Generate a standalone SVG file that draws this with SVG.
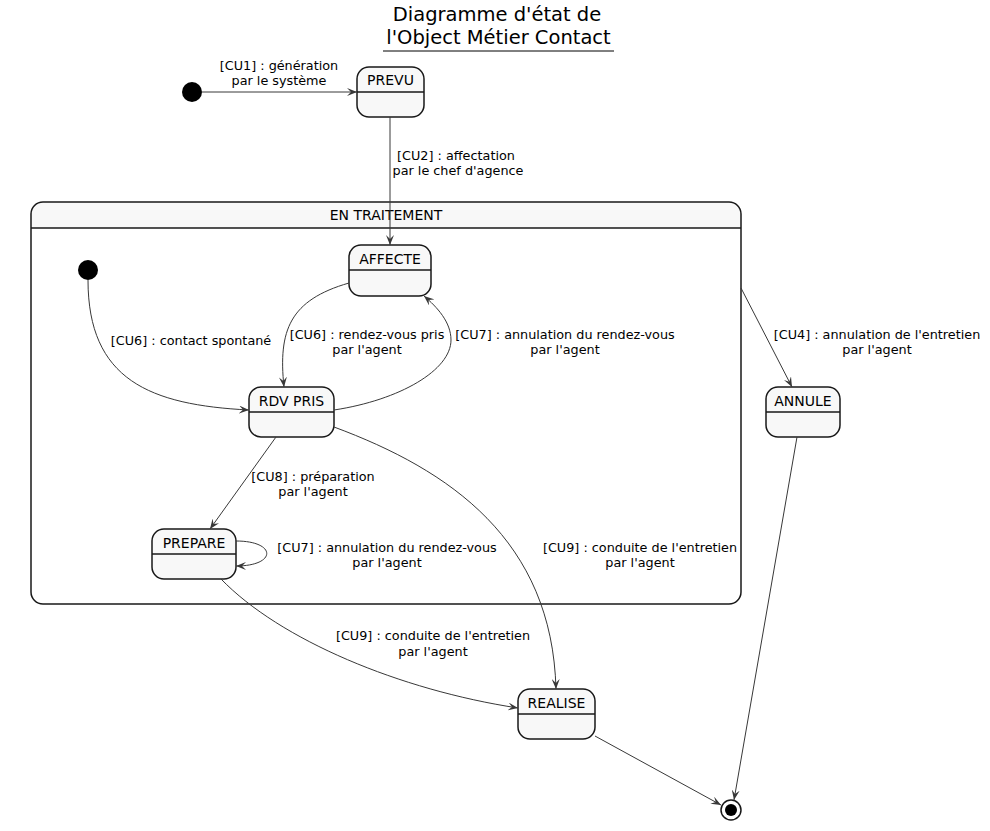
<svg xmlns="http://www.w3.org/2000/svg" width="990" height="831" viewBox="0 0 990 831">
<style>
text{font-family:"DejaVu Sans",sans-serif;fill:#000}
.t{font-size:19.5px;text-anchor:middle}
.n{font-size:14px;text-anchor:middle}
.l{font-size:12.8px;text-anchor:middle}
.st{fill:#F8F8F8;stroke:#181818;stroke-width:1.5}
.sep{stroke:#181818;stroke-width:1.5}
.c{fill:none;stroke:#383838;stroke-width:1}
</style>
<defs>
<marker id="a" viewBox="0 0 10 8" refX="10" refY="4" markerWidth="10" markerHeight="8" markerUnits="userSpaceOnUse" orient="auto">
<path d="M0,0 L10,4 L0,8 L4,4 Z" fill="#383838"/>
</marker>
</defs>
<rect width="990" height="831" fill="#fff"/>
<g id="title">
<text class="t" x="497" y="20.5">Diagramme d'état de</text>
<text class="t" x="498.5" y="44">l'Object Métier Contact</text>
<line x1="383" y1="51" x2="614" y2="51" stroke="#000" stroke-width="1"/>
</g>
<g id="composite">
<path d="M31,228 L31,214 Q31,202 43,202 L729,202 Q741,202 741,214 L741,228 Z" fill="#F8F8F8"/>
<rect x="31" y="202" width="710" height="402" rx="12" fill="none" stroke="#181818" stroke-width="1.5"/>
<line class="sep" x1="31" y1="228" x2="741" y2="228"/>
<text class="n" x="386" y="220">EN TRAITEMENT</text>
</g>
<g id="init"><circle cx="192" cy="92" r="10" fill="#000"/></g>
<g id="init2"><circle cx="88" cy="270" r="10" fill="#000"/></g>
<g id="PREVU">
<rect class="st" x="357" y="67" width="67" height="50" rx="12"/>
<line class="sep" x1="357" y1="92" x2="424" y2="92"/>
<text class="n" x="390.5" y="85">PREVU</text>
</g>
<g id="AFFECTE">
<rect class="st" x="349" y="245" width="82" height="51" rx="12"/>
<line class="sep" x1="349" y1="270" x2="431" y2="270"/>
<text class="n" x="390" y="264">AFFECTE</text>
</g>
<g id="RDVPRIS">
<rect class="st" x="249" y="387" width="85" height="50" rx="12"/>
<line class="sep" x1="249" y1="412" x2="334" y2="412"/>
<text class="n" x="291.5" y="406">RDV PRIS</text>
</g>
<g id="PREPARE">
<rect class="st" x="152" y="529" width="84" height="50" rx="12"/>
<line class="sep" x1="152" y1="554" x2="236" y2="554"/>
<text class="n" x="194" y="548">PREPARE</text>
</g>
<g id="ANNULE">
<rect class="st" x="766" y="387" width="74" height="50" rx="12"/>
<line class="sep" x1="766" y1="412" x2="840" y2="412"/>
<text class="n" x="803" y="406">ANNULE</text>
</g>
<g id="REALISE">
<rect class="st" x="518" y="689" width="77" height="50" rx="12"/>
<line class="sep" x1="518" y1="714" x2="595" y2="714"/>
<text class="n" x="556.5" y="708">REALISE</text>
</g>
<g id="final">
<circle cx="731" cy="810" r="10" fill="#fff" stroke="#181818" stroke-width="1.5"/>
<circle cx="731" cy="810" r="6" fill="#000"/>
</g>
<g id="connectors">
<path class="c" marker-end="url(#a)" d="M202,92 L357,92"/>
<path class="c" marker-end="url(#a)" d="M390,117 L390,245"/>
<path class="c" marker-end="url(#a)" d="M88,280 C88,380 150,405 249,410"/>
<path class="c" marker-end="url(#a)" d="M349,283 C290,300 278,330 284,387"/>
<path class="c" marker-end="url(#a)" d="M334,410 C400,400 451,370 451,340 C451,322 437,307 424,296"/>
<path class="c" marker-end="url(#a)" d="M276,437 L210,529"/>
<path class="c" marker-end="url(#a)" d="M236,541 C277,541 277,566 236,566"/>
<path class="c" marker-end="url(#a)" d="M334,427 C450,470 552,540 556,689"/>
<path class="c" marker-end="url(#a)" d="M221,579 C280,640 400,690 518,708"/>
<path class="c" marker-end="url(#a)" d="M741,288 L792,387"/>
<path class="c" marker-end="url(#a)" d="M797,437 L734,800"/>
<path class="c" marker-end="url(#a)" d="M595,736 L721,805"/>
</g>
<g id="labels">
<text class="l" x="279" y="70">[CU1] : génération</text>
<text class="l" x="279" y="85">par le système</text>
<text class="l" x="456" y="160">[CU2] : affectation</text>
<text class="l" x="458" y="175">par le chef d'agence</text>
<text class="l" x="191" y="345">[CU6] : contact spontané</text>
<text class="l" x="367" y="339">[CU6] : rendez-vous pris</text>
<text class="l" x="367" y="354">par l'agent</text>
<text class="l" x="565" y="339">[CU7] : annulation du rendez-vous</text>
<text class="l" x="565" y="354">par l'agent</text>
<text class="l" x="313" y="481">[CU8] : préparation</text>
<text class="l" x="313" y="496">par l'agent</text>
<text class="l" x="387" y="552">[CU7] : annulation du rendez-vous</text>
<text class="l" x="387" y="567">par l'agent</text>
<text class="l" x="640" y="552">[CU9] : conduite de l'entretien</text>
<text class="l" x="640" y="567">par l'agent</text>
<text class="l" x="433" y="640">[CU9] : conduite de l'entretien</text>
<text class="l" x="433" y="656">par l'agent</text>
<text class="l" x="877" y="339">[CU4] : annulation de l'entretien</text>
<text class="l" x="877" y="354">par l'agent</text>
</g>
</svg>
